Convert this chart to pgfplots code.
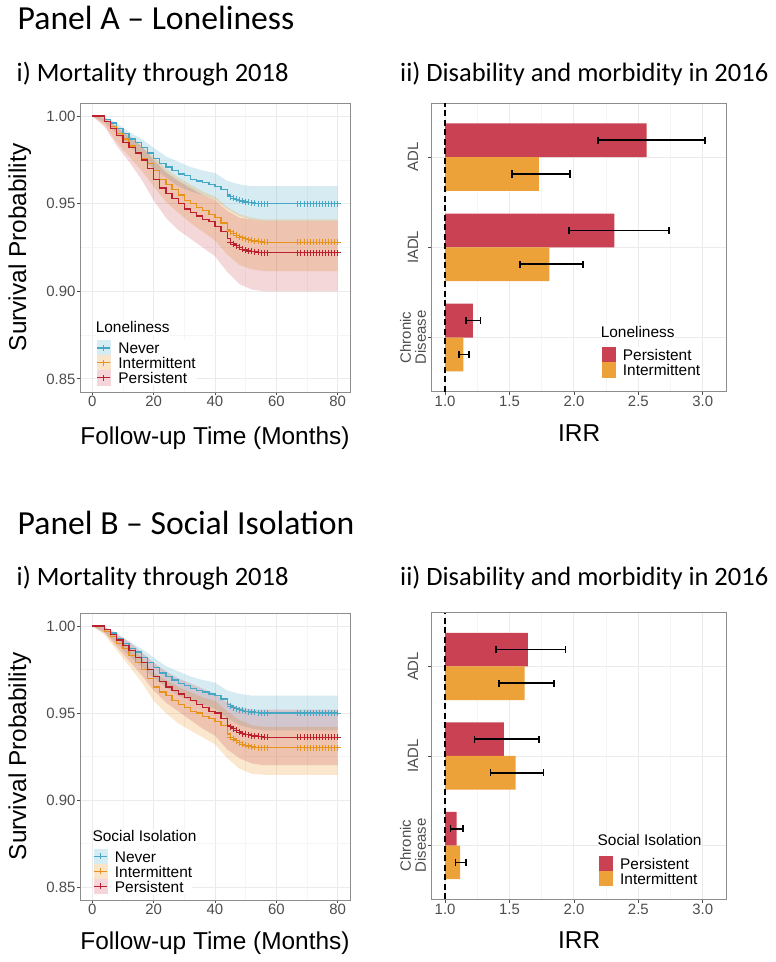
\documentclass[border=0pt]{standalone}
\usepackage{fontspec}
\setmainfont{Liberation Sans}
\newfontfamily\calibri{Carlito}
\usepackage{pgfplots}
\pgfplotsset{compat=1.18}
\usepackage{pgfplotstable}

\definecolor{neverC}{RGB}{70,168,196}
\definecolor{intC}{RGB}{231,146,27}
\definecolor{persC}{RGB}{188,32,44}
\definecolor{neverK}{RGB}{214,236,243}
\definecolor{intK}{RGB}{250,229,203}
\definecolor{persK}{RGB}{245,213,218}
\definecolor{barP}{RGB}{201,65,82}
\definecolor{barI}{RGB}{236,162,57}
\definecolor{gridmaj}{RGB}{235,235,235}
\definecolor{gridmin}{RGB}{245,245,245}
\definecolor{borderc}{RGB}{140,140,140}
\definecolor{tickc}{RGB}{77,77,77}

% ---------------- survival curves (never: same in both panels) ----------------
\pgfplotstableread{
x y
0 1.000
2 1.000
4 0.998
6 0.996
8 0.993
10 0.990
12 0.987
14 0.985
16 0.982
18 0.979
20 0.976
22 0.973
24 0.971
26 0.969
28 0.967
30 0.966
32 0.964
34 0.963
36 0.962
38 0.961
40 0.960
42 0.958
44 0.955
45 0.954
46 0.953
47 0.9525
48 0.952
49 0.9515
50 0.951
51 0.9508
52 0.9505
53 0.9503
54 0.9501
55 0.950
56 0.950
57 0.950
67 0.950
68 0.950
69 0.950
70 0.950
71 0.950
72 0.950
73 0.950
74 0.950
75 0.950
76 0.950
77 0.950
78 0.950
79 0.950
80 0.950
}\curveN
\pgfplotstableread{
x y
0 1.000
2 1.000
4 0.997
6 0.994
8 0.990
10 0.987
12 0.983
14 0.979
16 0.976
18 0.973
20 0.969
22 0.964
24 0.961
26 0.958
28 0.955
30 0.952
32 0.950
34 0.948
36 0.946
38 0.944
40 0.942
42 0.939
44 0.935
45 0.934
46 0.933
47 0.932
48 0.931
49 0.9305
50 0.930
51 0.9295
52 0.929
53 0.9287
54 0.9285
55 0.9282
56 0.928
57 0.928
67 0.928
68 0.928
69 0.928
70 0.928
71 0.928
72 0.928
73 0.928
74 0.928
75 0.928
76 0.928
77 0.928
78 0.928
79 0.928
80 0.928
}\curveIA
\pgfplotstableread{
x y
0 1.000
2 1.000
4 0.997
6 0.993
8 0.989
10 0.985
12 0.982
14 0.979
16 0.975
18 0.970
20 0.964
22 0.959
24 0.956
26 0.953
28 0.950
30 0.947
32 0.945
34 0.943
36 0.941
38 0.940
40 0.937
42 0.934
44 0.930
45 0.928
46 0.927
47 0.926
48 0.925
49 0.924
50 0.9235
51 0.923
52 0.9228
53 0.9225
54 0.9222
55 0.922
56 0.922
57 0.922
67 0.922
68 0.922
69 0.922
70 0.922
71 0.922
72 0.922
73 0.922
74 0.922
75 0.922
76 0.922
77 0.922
78 0.922
79 0.922
80 0.922
}\curvePA
\pgfplotstableread{
x y
0 1.000
2 1.000
4 0.997
6 0.994
8 0.990
10 0.987
12 0.983
14 0.979
16 0.975
18 0.970
20 0.965
22 0.962
24 0.960
26 0.957
28 0.955
30 0.953
32 0.951
34 0.950
36 0.948
38 0.947
40 0.945
42 0.943
44 0.938
45 0.936
46 0.935
47 0.934
48 0.933
49 0.932
50 0.9315
51 0.931
52 0.9307
53 0.9303
54 0.930
55 0.930
56 0.930
57 0.930
67 0.930
68 0.930
69 0.930
70 0.930
71 0.930
72 0.930
73 0.930
74 0.930
75 0.930
76 0.930
77 0.930
78 0.930
79 0.930
80 0.930
}\curveIB
\pgfplotstableread{
x y
0 1.000
2 1.000
4 0.998
6 0.995
8 0.992
10 0.989
12 0.986
14 0.982
16 0.979
18 0.975
20 0.971
22 0.968
24 0.965
26 0.963
28 0.961
30 0.959
32 0.957
34 0.955
36 0.953
38 0.951
40 0.950
42 0.947
44 0.943
45 0.942
46 0.941
47 0.940
48 0.939
49 0.938
50 0.9378
51 0.9375
52 0.937
53 0.9367
54 0.9365
55 0.9363
56 0.936
57 0.936
67 0.936
68 0.936
69 0.936
70 0.936
71 0.936
72 0.936
73 0.936
74 0.936
75 0.936
76 0.936
77 0.936
78 0.936
79 0.936
80 0.936
}\curvePB

% ---------------- confidence bands: upper edge, then lower edge backwards ----------------
\pgfplotstableread{
x y
0 1.000
4 0.9995
8 0.996
12 0.991
16 0.987
20 0.982
24 0.977
28 0.974
32 0.971
36 0.969
40 0.9675
44 0.963
48 0.961
52 0.960
56 0.960
80 0.960
80 0.940
56 0.940
52 0.941
48 0.943
44 0.947
40 0.9525
36 0.955
32 0.957
28 0.960
24 0.965
20 0.970
16 0.977
12 0.983
8 0.990
4 0.9965
0 1.000
}\bandN
\pgfplotstableread{
x y
0 1.000
4 0.999
8 0.994
12 0.988
16 0.983
20 0.977
24 0.970
28 0.965
32 0.961
36 0.957
40 0.954
44 0.948
48 0.944
52 0.942
56 0.941
80 0.941
80 0.9115
56 0.9115
52 0.9125
48 0.915
44 0.921
40 0.929
36 0.934
32 0.939
28 0.945
24 0.951
20 0.960
16 0.969
12 0.977
8 0.985
4 0.995
0 1.000
}\bandIA
\pgfplotstableread{
x y
0 1.000
4 0.999
8 0.994
12 0.989
16 0.983
20 0.975
24 0.968
28 0.963
32 0.959
36 0.955
40 0.952
44 0.946
48 0.942
52 0.941
56 0.940
80 0.940
80 0.900
56 0.900
52 0.901
48 0.904
44 0.911
40 0.920
36 0.925
32 0.930
28 0.935
24 0.942
20 0.952
16 0.964
12 0.974
8 0.983
4 0.994
0 1.000
}\bandPA
\pgfplotstableread{
x y
0 1.000
4 0.999
8 0.994
12 0.988
16 0.982
20 0.973
24 0.969
28 0.965
32 0.962
36 0.959
40 0.957
44 0.951
48 0.946
52 0.943
56 0.942
80 0.942
80 0.9145
56 0.9145
52 0.915
48 0.918
44 0.924
40 0.932
36 0.936
32 0.940
28 0.944
24 0.950
20 0.957
16 0.968
12 0.977
8 0.986
4 0.995
0 1.000
}\bandIB
\pgfplotstableread{
x y
0 1.000
4 0.9995
8 0.995
12 0.991
16 0.985
20 0.979
24 0.974
28 0.970
32 0.967
36 0.964
40 0.961
44 0.956
48 0.953
52 0.952
56 0.952
80 0.952
80 0.920
56 0.920
52 0.921
48 0.924
44 0.929
40 0.937
36 0.941
32 0.946
28 0.951
24 0.956
20 0.963
16 0.972
12 0.980
8 0.988
4 0.996
0 1.000
}\bandPB

% ---------------- IRR bars ----------------
\pgfplotstableread{
y irr lo hi
3 2.565 2.185 3.020
2 2.314 1.960 2.739
1 1.215 1.163 1.274
}\lonPers
\pgfplotstableread{
y irr lo hi
3 1.727 1.517 1.970
2 1.810 1.582 2.069
1 1.142 1.106 1.186
}\lonInt
\pgfplotstableread{
y irr lo hi
3 1.643 1.396 1.935
2 1.456 1.229 1.727
1 1.089 1.042 1.138
}\socPers
\pgfplotstableread{
y irr lo hi
3 1.617 1.419 1.844
2 1.547 1.352 1.763
1 1.117 1.081 1.161
}\socInt

\pgfplotsset{
  gg/.style={
    scale only axis,
    axis line style={draw=borderc, line width=0.9bp},
    xtick pos=left, ytick pos=left,
    tick align=outside,
    major tick length=3.3bp,
    minor tick length=0pt,
    tick style={draw=tickc, line width=0.8bp},
    grid=both,
    major grid style={draw=gridmaj, line width=0.9bp},
    minor grid style={draw=gridmin, line width=0.5bp},
    tick label style={font=\fontsize{15}{15}\selectfont, text=tickc, inner sep=1bp},
    label style={font=\fontsize{24.5}{24.5}\selectfont, text=black},
    /pgf/number format/assume math mode=true,
    legend cell align=left,
  },
  surv/.style={gg, width=270bp,
    xmin=-4, xmax=84, ymin=0.8425, ymax=1.0075,
    xtick={0,20,40,60,80}, minor xtick={10,30,50,70},
    ytick={0.85,0.90,0.95,1.00}, minor ytick={0.875,0.925,0.975},
    yticklabel style={/pgf/number format/fixed, /pgf/number format/fixed zerofill, /pgf/number format/precision=2},
    xlabel={Follow-up Time (Months)}, ylabel={Survival Probability},
    ylabel style={at={(axis description cs:-0.2,0.5)}, anchor=base},
  },
  irr/.style={gg, width=295bp,
    xmin=-0.104, xmax=2.186, ymin=0.4, ymax=3.6,
    xtick={0,0.5,1,1.5,2}, xticklabels={1.0,1.5,2.0,2.5,3.0},
    minor xtick={0.25,0.75,1.25,1.75},
    ytick={1,2,3}, yticklabels={{Chronic\\Disease},IADL,ADL},
    yticklabel style={xshift=-15.4bp, rotate=90, anchor=center, align=center},
    xlabel={IRR},
  },
  lgd/.style 2 args={legend style={at={(axis description cs:#1,#2)}, anchor=north west, draw=none, fill=white,
    inner sep=0pt, outer sep=0pt, row sep=0pt, column sep=7.5bp,
    font=\fontsize{15.5}{15.5}\selectfont,
    nodes={inner sep=0pt, text height=13.25bp, text depth=1.25bp}}},
  survkey/.style 2 args={legend image code/.code={
    \fill[#2] (0bp,-7.25bp) rectangle (13bp,7.25bp);
    \draw[#1, line width=1.2bp] (0bp,0bp) -- (13bp,0bp);
    \draw[#1, line width=1bp] (6.5bp,-3bp) -- (6.5bp,3bp);}},
  barkey/.style={legend image code/.code={
    \fill[#1] (0bp,-7.25bp) rectangle (13.3bp,7.25bp);}},
  ebar/.style={draw=none, mark=none, forget plot,
    error bars/.cd, x dir=both, x explicit, error mark=|,
    error bar style={line width=1.7bp, draw=black, solid},
    error mark options={line width=1.7bp, mark size=3.6bp, draw=black, solid}},
}

\newcommand{\survplot}[6]{%
  \addplot[fill=neverC, fill opacity=0.22, draw=none, forget plot] table[x=x,y=y] {#1};
  \addplot[fill=intC, fill opacity=0.22, draw=none, forget plot] table[x=x,y=y] {#2};
  \addplot[fill=persC, fill opacity=0.18, draw=none, forget plot] table[x=x,y=y] {#3};
  \addplot[const plot, neverC, line width=1.3bp, forget plot] table[x=x,y=y] {#4};
  \addplot[const plot, intC, line width=1.3bp, forget plot] table[x=x,y=y] {#5};
  \addplot[const plot, persC, line width=1.3bp, forget plot] table[x=x,y=y] {#6};
  \addplot[only marks, mark=+, mark size=3bp, neverC, line width=0.9bp, forget plot, restrict x to domain=45:80] table[x=x,y=y] {#4};
  \addplot[only marks, mark=+, mark size=3bp, intC, line width=0.9bp, forget plot, restrict x to domain=45:80] table[x=x,y=y] {#5};
  \addplot[only marks, mark=+, mark size=3bp, persC, line width=0.9bp, forget plot, restrict x to domain=45:80] table[x=x,y=y] {#6};
  \addlegendimage{survkey={neverC}{neverK}}\addlegendentry{Never}
  \addlegendimage{survkey={intC}{intK}}\addlegendentry{Intermittent}
  \addlegendimage{survkey={persC}{persK}}\addlegendentry{Persistent}
}

\newcommand{\irrplot}[2]{%
  \addplot[xbar, bar width=0.375, bar shift=0.1875, fill=barP, draw=none, forget plot]
    table[x expr=\thisrow{irr}-1, y=y] {#1};
  \addplot[xbar, bar width=0.375, bar shift=-0.1875, fill=barI, draw=none, forget plot]
    table[x expr=\thisrow{irr}-1, y=y] {#2};
  \addplot[ebar] table[x expr=\thisrow{irr}-1, y expr=\thisrow{y}+0.1875,
     x error plus expr=\thisrow{hi}-\thisrow{irr},
     x error minus expr=\thisrow{irr}-\thisrow{lo}] {#1};
  \addplot[ebar] table[x expr=\thisrow{irr}-1, y expr=\thisrow{y}-0.1875,
     x error plus expr=\thisrow{hi}-\thisrow{irr},
     x error minus expr=\thisrow{irr}-\thisrow{lo}] {#2};
  \addplot[black, line width=1.4bp, dash pattern=on 6bp off 3.5bp, forget plot] coordinates {(0,0.4) (0,3.6)};
  \addlegendimage{barkey=barP}\addlegendentry{Persistent}
  \addlegendimage{barkey=barI}\addlegendentry{Intermittent}
}

\begin{document}
\begin{tikzpicture}
\useasboundingbox (0,0) rectangle (776bp,962bp);

\node[anchor=base west, inner sep=0pt, font=\calibri\fontsize{33.8}{33.8}\selectfont] at (17.5bp,932bp) {Panel A – Loneliness};
\node[anchor=base west, inner sep=0pt, font=\calibri\fontsize{26.6}{26.6}\selectfont] at (16.5bp,880bp) {i) Mortality through 2018};
\node[anchor=base west, inner sep=0pt, font=\calibri\fontsize{26.6}{26.6}\selectfont] at (400bp,880bp) {ii) Disability and morbidity in 2016};
\node[anchor=base west, inner sep=0pt, font=\calibri\fontsize{33.8}{33.8}\selectfont] at (17.5bp,427bp) {Panel B – Social Isolation};
\node[anchor=base west, inner sep=0pt, font=\calibri\fontsize{26.6}{26.6}\selectfont] at (16.5bp,376bp) {i) Mortality through 2018};
\node[anchor=base west, inner sep=0pt, font=\calibri\fontsize{26.6}{26.6}\selectfont] at (400bp,376bp) {ii) Disability and morbidity in 2016};

% Panel A, survival
\begin{axis}[surv, at={(80bp,570bp)}, anchor=south west, height=289bp,
  xlabel style={at={(axis description cs:0.5,-0.18)}, anchor=base},
  lgd={0.0619}{0.1782}]
  \survplot{\bandN}{\bandIA}{\bandPA}{\curveN}{\curveIA}{\curvePA}
  \node[anchor=base west, inner sep=0pt, fill=white, text height=12bp, text depth=3bp,
        font=\fontsize{15.5}{15.5}\selectfont] at (axis description cs:0.0578,0.2052) {Loneliness};
\end{axis}

% Panel A, IRR
\begin{axis}[irr, at={(431.7bp,570.3bp)}, anchor=south west, height=288.7bp,
  xlabel style={at={(axis description cs:0.5,-0.1708)}, anchor=base},
  lgd={0.5763}{0.1538}]
  \irrplot{\lonPers}{\lonInt}
  \node[anchor=base west, inner sep=0pt, fill=white, text height=12bp, text depth=3bp,
        font=\fontsize{15.5}{15.5}\selectfont] at (axis description cs:0.5725,0.1884) {Loneliness};
\end{axis}

% Panel B, survival
\begin{axis}[surv, at={(80bp,62bp)}, anchor=south west, height=287bp,
  xlabel style={at={(axis description cs:0.5,-0.174)}, anchor=base},
  lgd={0.049}{0.1777}]
  \survplot{\bandN}{\bandIB}{\bandPB}{\curveN}{\curveIB}{\curvePB}
  \node[anchor=base west, inner sep=0pt, fill=white, text height=12bp, text depth=3bp,
        font=\fontsize{15.5}{15.5}\selectfont] at (axis description cs:0.0456,0.2031) {Social Isolation};
\end{axis}

% Panel B, IRR
\begin{axis}[irr, at={(431.7bp,62.7bp)}, anchor=south west, height=286.6bp,
  xlabel style={at={(axis description cs:0.5,-0.1734)}, anchor=base},
  lgd={0.5671}{0.1521}]
  \irrplot{\socPers}{\socInt}
  \node[anchor=base west, inner sep=0pt, fill=white, text height=12bp, text depth=3bp,
        font=\fontsize{15.5}{15.5}\selectfont] at (axis description cs:0.562,0.186) {Social Isolation};
\end{axis}
\end{tikzpicture}
\end{document}
